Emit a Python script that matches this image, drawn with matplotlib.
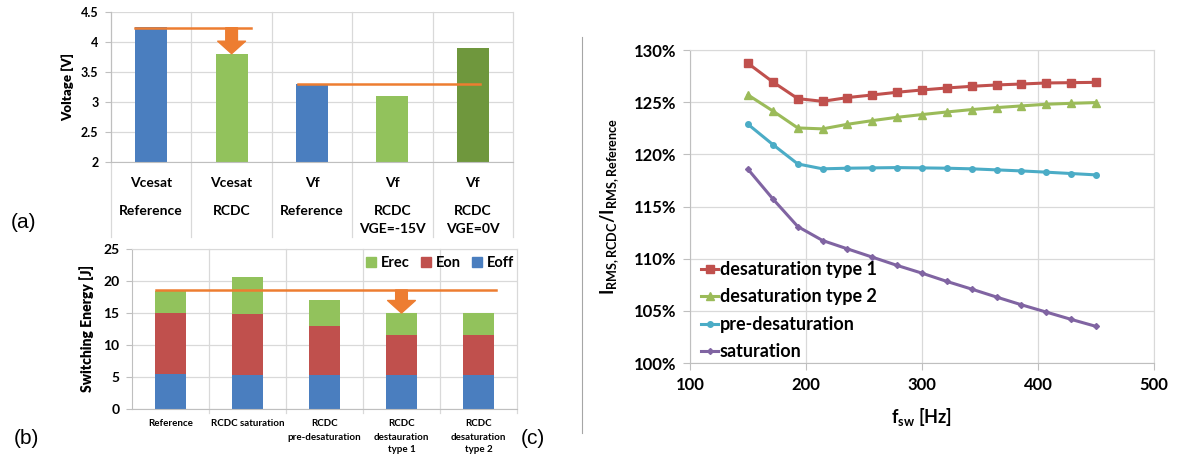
import matplotlib
matplotlib.use('Agg')
import matplotlib.pyplot as plt
from matplotlib.lines import Line2D
from matplotlib.patches import Patch
import matplotlib.transforms as mtransforms

# (a) forward voltages
volt_top = ["Vcesat", "Vcesat", "Vf", "Vf", "Vf"]
volt_sub = ["Reference", "RCDC", "Reference", "RCDC\nVGE=-15V", "RCDC\nVGE=0V"]
volt_vals = [4.25, 3.8, 3.3, 3.1, 3.9]

# (b) switching energy
energy_cats = ["Reference", "RCDC saturation", "RCDC\npre-desaturation",
               "RCDC\ndestauration\ntype 1", "RCDC\ndesaturation\ntype 2"]
eoff = [5.5, 5.3, 5.3, 5.3, 5.3]
eon = [9.5, 9.5, 7.6, 6.2, 6.2]
erec = [3.5, 5.9, 4.2, 3.5, 3.5]

# (c) rms current ratio
fsw = [150, 171.4, 192.9, 214.3, 235.7, 257.1, 278.6, 300, 321.4, 342.9,
       364.3, 385.7, 407.1, 428.6, 450]
desat1 = [128.72, 126.94, 125.34, 125.08, 125.44, 125.69, 125.95, 126.17,
          126.36, 126.52, 126.65, 126.74, 126.84, 126.87, 126.90]
desat2 = [125.69, 124.16, 122.53, 122.44, 122.88, 123.23, 123.55, 123.81,
          124.06, 124.29, 124.48, 124.64, 124.80, 124.89, 124.96]
predesat = [122.88, 120.94, 119.08, 118.61, 118.67, 118.70, 118.73, 118.70,
            118.67, 118.61, 118.51, 118.41, 118.29, 118.16, 118.03]
saturation = [118.57, 115.73, 113.08, 111.74, 110.94, 110.15, 109.35, 108.61,
              107.82, 107.08, 106.32, 105.58, 104.88, 104.18, 103.51]

plt.rcParams['font.family'] = ['Lato', 'DejaVu Sans']
plt.rcParams['font.weight'] = 'bold'
plt.rcParams['axes.labelweight'] = 'bold'
plt.rcParams['mathtext.fontset'] = 'custom'
plt.rcParams['mathtext.rm'] = 'Lato:bold'
plt.rcParams['mathtext.it'] = 'Lato:bold'
plt.rcParams['mathtext.bf'] = 'Lato:bold'

W, H = 1178, 454
fig = plt.figure(figsize=(W / 100, H / 100), dpi=100)

GRID = '#d9d9d9'
AXC = '#bfbfbf'
ORANGE = '#ed7d31'
BLUE = '#4a7ebf'
LGREEN = '#92c25c'
DGREEN = '#6f973d'
RED = '#c0504d'


def px_axes(left, top, right, bottom):
    return fig.add_axes([left / W, 1 - bottom / H, (right - left) / W, (bottom - top) / H])


def style_axes(ax, fs):
    for s in ax.spines.values():
        s.set_visible(False)
    ax.spines['left'].set_visible(True)
    ax.spines['left'].set_color(AXC)
    ax.spines['bottom'].set_visible(True)
    ax.spines['bottom'].set_color(AXC)
    ax.yaxis.grid(True, color=GRID, lw=0.9)
    ax.set_axisbelow(True)
    ax.tick_params(axis='y', length=4, color=AXC, labelsize=fs, pad=5)
    ax.tick_params(axis='x', length=0, labelbottom=False)


def block_arrow(ax, x, y0, y1):
    ax.annotate('', xy=(x, y1), xytext=(x, y0),
                arrowprops=dict(arrowstyle='simple,head_width=1.0,head_length=0.45,tail_width=0.42',
                                color=ORANGE, shrinkA=0, shrinkB=0, mutation_scale=20), zorder=5)


# ---------------- (a)
ax1 = px_axes(111, 11.7, 513, 161.7)
style_axes(ax1, 9)
ax1.bar(range(5), volt_vals, width=0.4, color=[BLUE, LGREEN, BLUE, LGREEN, DGREEN], zorder=2)
ax1.set_xlim(-0.5, 4.5)
ax1.set_ylim(2, 4.5)
ax1.set_yticks([2, 2.5, 3, 3.5, 4, 4.5])
ax1.set_yticklabels(['2', '2.5', '3', '3.5', '4', '4.5'])
ax1.set_ylabel('Voltage [V]', fontsize=9.5, fontweight='heavy', labelpad=5)
trans1 = mtransforms.blended_transform_factory(ax1.transData, ax1.transAxes)
for b in [-0.5, 0.5, 1.5, 2.5, 3.5, 4.5]:
    ax1.plot([b, b], [-(237 - 161.7) / 150, 1], color=GRID, lw=0.9, transform=trans1, clip_on=False, zorder=1)
for i in range(5):
    ax1.text(i, -(183 - 161.7) / 150, volt_top[i], transform=trans1, ha='center', va='center', fontsize=10)
    for j, line in enumerate(volt_sub[i].split('\n')):
        ax1.text(i, -(211 + 18 * j - 161.7) / 150, line, transform=trans1,
                 ha='center', va='center', fontsize=10)
ax1.plot([-0.2, 1.245], [4.233, 4.233], color=ORANGE, lw=1.8, zorder=4)
ax1.plot([1.82, 4.09], [3.295, 3.295], color=ORANGE, lw=1.8, zorder=4)
block_arrow(ax1, 1, 4.233, 3.8)

# ---------------- (b)
ax2 = px_axes(132, 249, 517, 409)
style_axes(ax2, 10)
x = range(5)
ax2.bar(x, eoff, width=0.39, color=BLUE, zorder=2)
ax2.bar(x, eon, width=0.39, bottom=eoff, color=RED, zorder=2)
ax2.bar(x, erec, width=0.39, bottom=[a + b for a, b in zip(eoff, eon)], color=LGREEN, zorder=2)
ax2.set_xlim(-0.5, 4.5)
ax2.set_ylim(0, 25)
ax2.set_yticks([0, 5, 10, 15, 20, 25])
ax2.set_ylabel('Switching Energy [J]', fontsize=10, fontweight='heavy', labelpad=7)
ax2.spines['top'].set_visible(True)
ax2.spines['top'].set_color(GRID)
trans2 = mtransforms.blended_transform_factory(ax2.transData, ax2.transAxes)
for b in [0.5, 1.5, 2.5, 3.5, 4.5]:
    ax2.plot([b, b], [-4 / 160, 1], color=GRID, lw=0.9, transform=trans2, clip_on=False, zorder=1)
for i, lab in enumerate(energy_cats):
    for j, line in enumerate(lab.split('\n')):
        ax2.text(i, -(424 + 13 * j - 409) / 160, line, transform=trans2,
                 ha='center', va='center', fontsize=7)
ax2.plot([-0.19, 4.23], [18.6, 18.6], color=ORANGE, lw=1.8, zorder=4)
block_arrow(ax2, 3, 18.6, 15.0)
hb = [Patch(color=LGREEN), Patch(color=RED), Patch(color=BLUE)]
ax2.legend(hb, ['Erec', 'Eon', 'Eoff'], ncol=3, frameon=False, fontsize=10.5,
           loc='center right', bbox_to_anchor=((514 - 132) / 385, 1 - (263 - 249) / 160),
           handlelength=0.7, handleheight=0.7, handletextpad=0.3, columnspacing=0.8,
           borderpad=0, borderaxespad=0)

# ---------------- (c)
ax3 = px_axes(690, 50, 1154, 363)
for s in ax3.spines.values():
    s.set_color(GRID)
ax3.spines['left'].set_color(AXC)
ax3.spines['bottom'].set_color(AXC)
ax3.grid(True, color=GRID, lw=0.9)
ax3.set_axisbelow(True)
ax3.plot(fsw, desat1, color=RED, lw=2.2, marker='s', ms=5.5, label='desaturation type 1')
ax3.plot(fsw, desat2, color='#9bbb59', lw=2.2, marker='^', ms=6, label='desaturation type 2')
ax3.plot(fsw, predesat, color='#4bacc6', lw=2.2, marker='o', ms=4, label='pre-desaturation')
ax3.plot(fsw, saturation, color='#8064a2', lw=2.2, marker='D', ms=3, label='saturation')
ax3.set_xlim(100, 500)
ax3.set_ylim(100, 130)
ax3.set_xticks([100, 200, 300, 400, 500])
ax3.set_yticks([100, 105, 110, 115, 120, 125, 130])
ax3.set_yticklabels([f'{v}%' for v in [100, 105, 110, 115, 120, 125, 130]])
ax3.tick_params(length=5, color=AXC, labelsize=12, pad=5)
ax3.legend(loc='upper left', bbox_to_anchor=((701 - 690) / 464, 1 - (261 - 50) / 313),
           frameon=False, fontsize=13, handlelength=0.95, handletextpad=0.1,
           labelspacing=0.58, borderpad=0, borderaxespad=0)
fig.text(610 / W, 1 - 206 / H, r'I$_{\mathrm{RMS,RCDC}}$/I$_{\mathrm{RMS,Reference}}$',
         rotation=90, ha='center', va='center', fontsize=13)
fig.text(922 / W, 1 - 417 / H, r'f$_{\mathrm{sw}}$ [Hz]', ha='center', va='center', fontsize=13)

# separator and panel tags
fig.add_artist(Line2D([582 / W, 582 / W], [1 - 37 / H, 1 - 433 / H], color='#a6a6a6', lw=0.8))
for tag, tx, ty in [('(a)', 23, 223), ('(b)', 26, 438), ('(c)', 533, 438)]:
    fig.text(tx / W, 1 - ty / H, tag, ha='center', va='center', fontsize=15,
             family='Liberation Sans', weight='normal')

fig.savefig('out.png', dpi=100)
